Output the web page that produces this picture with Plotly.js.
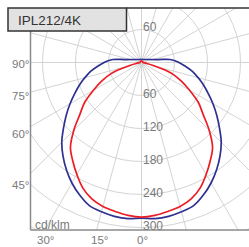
<!DOCTYPE html>
<html>
<head>
<meta charset="utf-8">
<script src="https://cdn.plot.ly/plotly-3.0.1.min.js"></script>
<style>
html,body{margin:0;padding:0;width:249px;height:247px;overflow:hidden;background:#fff;}
#chart{position:absolute;left:-62.5px;top:-141px;width:407px;height:407px;}
</style>
</head>
<body>
<div id="chart"></div>
<script>
// Data (cd/klm) vs gamma angle (deg from nadir)
const gamma = [0,5,10,15,20,25,30,35,40,45,50,55,60,65,70,73,76,80,85,90,93,96,100,110,120,135,150,165,180];
const planeC0C180 = [283,285,284,281,277,266,253,238,222,205,185,167,150,134,120,112,104,94,80,68,61,52,31,16,11,7.7,6.3,5.7,5.5];
const planeC90C270 = [281,279,275,271,264,252,235,218,201,174,146,126,101,80,59,40,22,10,4,2.5,2.5,2.5,2.5,2.5,2.5,2.5,2.5,2.5,2.5];
const ringLabels = ["60","120","180","240","300"];
const ringValues = [60,120,180,240,300];
const angleLabelsLeft = ["90°","75°","60°","45°"];
const angleLabelsBottom = ["30°","15°","0°"];
const unitLabel = "cd/klm";
const titleText = "IPL212/4K";

function mirror(vals){
  const r = vals.slice();
  for(let i=vals.length-2;i>=0;i--) r.push(vals[i]);
  return r;
}
const thetaAll = gamma.slice();
for(let i=gamma.length-2;i>=0;i--) thetaAll.push(360-gamma[i]);

const S = 407, OX = 62.5, OY = 141;
const px = X => (X + OX)/S;
const py = Y => 1 - (Y + OY)/S;
const CX = 141, CY = 62.5, K = 0.55;

const traces = [
  {type:'scatterpolar', mode:'lines', r:mirror(planeC0C180), theta:thetaAll,
   line:{color:'#2e3192', width:1.7, shape:'spline', smoothing:1}, hoverinfo:'skip'},
  {type:'scatterpolar', mode:'lines', r:mirror(planeC90C270), theta:thetaAll,
   line:{color:'#ec1c24', width:1.7, shape:'spline', smoothing:1}, hoverinfo:'skip'}
];

const white = {type:'rect', xref:'paper', yref:'paper', fillcolor:'#ffffff', line:{width:0}, layer:'above'};
const shapes = [
  Object.assign({}, white, {x0:0, x1:px(30), y0:0, y1:1}),
  Object.assign({}, white, {x0:0, x1:1, y0:0, y1:py(230)}),
  Object.assign({}, white, {x0:0, x1:1, y0:py(8), y1:1}),
  {type:'line', xref:'paper', yref:'paper', x0:px(126), x1:1, y0:py(8), y1:py(8), line:{color:'#333333', width:1.5}, layer:'above'},
  {type:'line', xref:'paper', yref:'paper', x0:px(30), x1:px(30), y0:py(31), y1:py(230), line:{color:'#8a8a8a', width:1.5}, layer:'above'},
  {type:'line', xref:'paper', yref:'paper', x0:px(30), x1:1, y0:py(230), y1:py(230), line:{color:'#8a8a8a', width:1.5}, layer:'above'},
  {type:'rect', xref:'paper', yref:'paper', x0:px(7.5), x1:px(126), y0:py(31), y1:py(8), fillcolor:'#e2e2e2', line:{color:'#333333', width:1.5}, layer:'above'}
];

const font = 'Liberation Sans, Arial, sans-serif';
const ann = [];
function A(text, X, Y, xa, size, color){
  ann.push({text:text, xref:'paper', yref:'paper', x:px(X), y:py(Y), xanchor:xa, yanchor:'middle',
    showarrow:false, borderpad:0, font:{family:font, size:size, color:color}});
}
A(titleText, 16, 20, 'left', 13.5, '#333333');
ringValues.forEach((v,i)=> A(ringLabels[i], CX+0.5, CY + v*K - 1.5, 'left', 12, '#7a7a7a'));
A(ringLabels[0], CX+0.5, CY - 60*K - 2.5, 'left', 12, '#7a7a7a');
const leftY = [64, 96, 134, 185];
angleLabelsLeft.forEach((t,i)=> A(t, 20, leftY[i], 'center', 11.5, '#7a7a7a'));
const botX = [45, 99, 142];
angleLabelsBottom.forEach((t,i)=> A(t, botX[i], 240, 'center', 11.5, '#7a7a7a'));
A(unitLabel, 33, 224.5, 'left', 12, '#7a7a7a');

const layout = {
  width:S, height:S, margin:{l:0,r:0,t:0,b:0}, showlegend:false,
  paper_bgcolor:'#ffffff',
  polar:{
    domain:{x:[0,1], y:[0,1]}, bgcolor:'#ffffff',
    radialaxis:{range:[0,370], tickvals:[60,120,180,240,300,360], showticklabels:false, ticks:'',
      showline:false, gridcolor:'#d4d4d4', gridwidth:1},
    angularaxis:{rotation:-90, direction:'counterclockwise', dtick:15, showticklabels:false, ticks:'',
      showline:false, gridcolor:'#d4d4d4', gridwidth:1}
  },
  shapes:shapes, annotations:ann
};
Plotly.newPlot('chart', traces, layout, {staticPlot:true, displayModeBar:false});
</script>
</body>
</html>
